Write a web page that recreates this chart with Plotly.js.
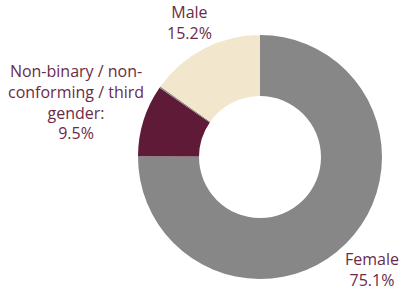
<!DOCTYPE html>
<html>
<head>
<meta charset="utf-8">
<script src="https://cdn.plot.ly/plotly-3.0.1.min.js"></script>
<style>html,body{margin:0;padding:0;background:#fff;}#chart{width:399px;height:290px;}</style>
</head>
<body>
<div id="chart"></div>
<script>
const categories = ["Female", "Non-binary / non-<br>conforming / third<br>gender:", "Other", "Male"];
const values = [75.1, 9.5, 0.2, 15.2];
const labelsShown = ["75.1%", "9.5%", "", "15.2%"];
const colors = ["#878787", "#5f1a37", "#878787", "#f2e6cc"];

const textColor = "#6b2b47";
const font = {family: "Open Sans", size: 16, color: textColor};

const annPos = [
  {x: 372/399, y: 1 - 269/290},
  {x: 76/399, y: 1 - 102/290},
  null,
  {x: 189/399, y: 1 - 22/290}
];
const annotations = [];
categories.forEach((c, i) => {
  if (!annPos[i]) return;
  annotations.push({
    xref: "paper", yref: "paper", x: annPos[i].x, y: annPos[i].y,
    xanchor: "center", yanchor: "middle", showarrow: false,
    text: c + "<br>" + labelsShown[i], font: font, align: "center"
  });
});

Plotly.newPlot("chart", [{
  type: "pie",
  labels: categories,
  values: values,
  hole: 0.5,
  sort: false,
  direction: "clockwise",
  rotation: 0,
  textinfo: "none",
  marker: {colors: colors, line: {width: 0}},
  domain: {x: [138/399, 382/399], y: [1 - 279/290, 1 - 35/290]},
  showlegend: false,
  hoverinfo: "label+value"
}], {
  width: 399, height: 290,
  margin: {l: 0, r: 0, t: 0, b: 0},
  paper_bgcolor: "#fff",
  annotations: annotations,
  font: font
}, {displayModeBar: false, staticPlot: true});
</script>
</body>
</html>
